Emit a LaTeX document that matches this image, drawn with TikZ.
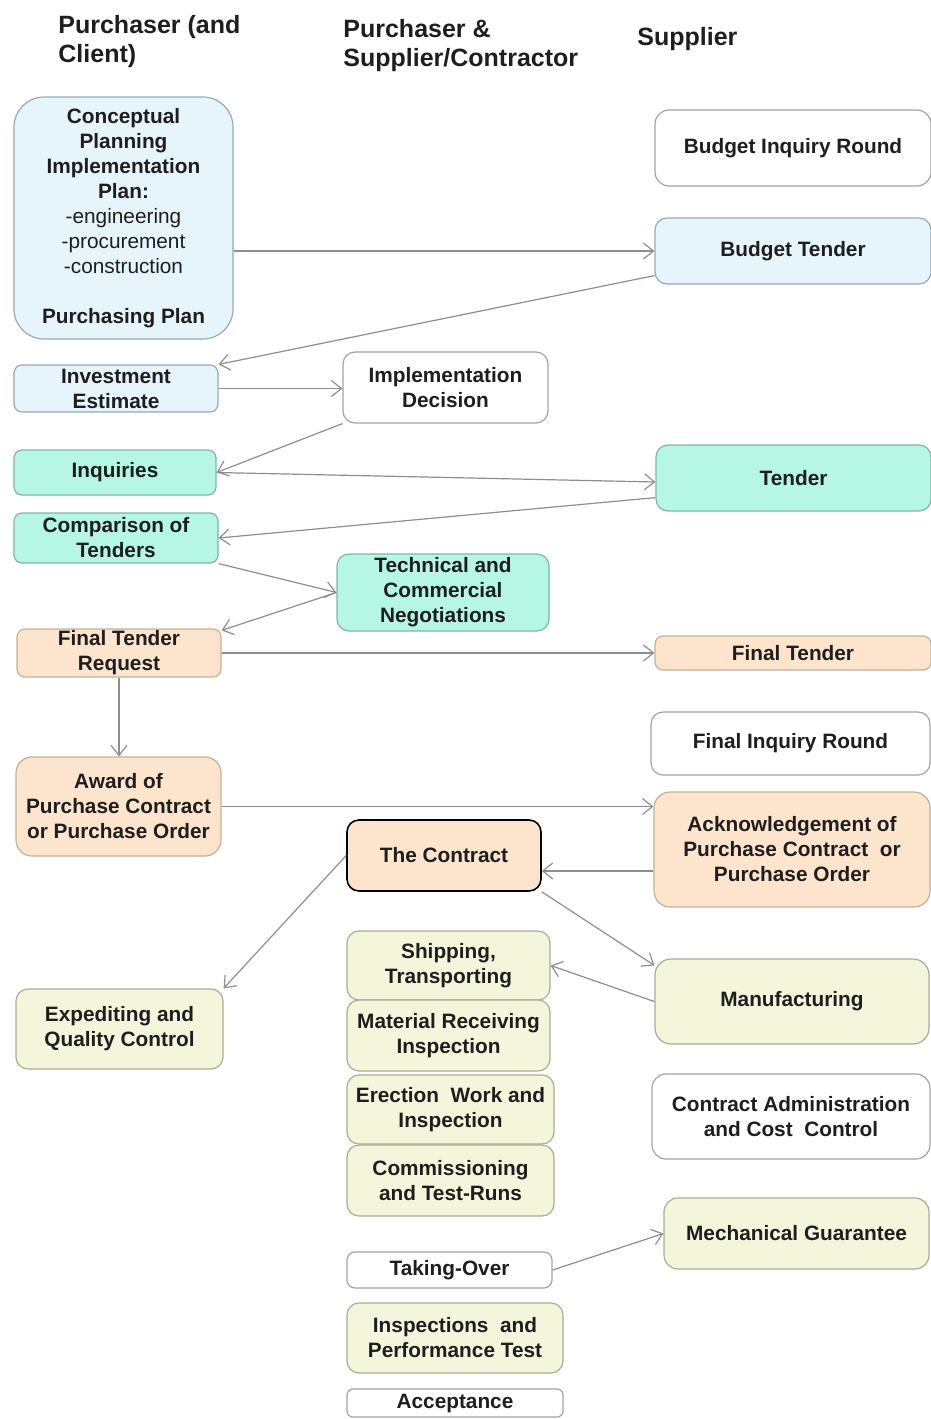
\documentclass[tikz,border=0pt]{standalone}
\usepackage{fontspec}
\setmainfont{Liberation Sans}
\usetikzlibrary{arrows.meta}
\definecolor{fblue}{HTML}{E6F4FC}
\definecolor{dblue}{HTML}{9AAAB2}
\definecolor{fteal}{HTML}{B5F6E5}
\definecolor{dteal}{HTML}{82B4A6}
\definecolor{fpeach}{HTML}{FCE4CD}
\definecolor{dpeach}{HTML}{C4B09A}
\definecolor{fgreen}{HTML}{F3F6DA}
\definecolor{dgreen}{HTML}{A9AD95}
\definecolor{dwhite}{HTML}{A3A3A3}
\definecolor{agray}{HTML}{8E8E8E}
\definecolor{txt}{HTML}{1E1E1E}
\tikzset{
  box/.style={draw=dwhite, fill=white, rounded corners=5pt, line width=0.6pt, inner sep=0pt,
    align=center, text=txt, font=\bfseries\fontsize{10.4}{12.5}\selectfont},
  bluebox/.style={box, fill=fblue, draw=dblue},
  tealbox/.style={box, fill=fteal, draw=dteal},
  peachbox/.style={box, fill=fpeach, draw=dpeach},
  greenbox/.style={box, fill=fgreen, draw=dgreen},
  whitebox/.style={box},
  head/.style={anchor=base west, inner sep=0pt, text=txt, font=\bfseries\fontsize{12.5}{14.5}\selectfont},
  arr/.style={draw=agray, line width=0.6pt, -{Straight Barb[length=5pt,width=8pt]}},
}
\newcommand\bx[7]{\node[#6, minimum width={(#4-#2)*0.5pt}, minimum height={(#5-#3)*0.5pt}] (#1) at ({(#2+#4)/2},{(#3+#5)/2}) {#7};}
\begin{document}
\begin{tikzpicture}[x=0.5pt,y=-0.5pt]
\useasboundingbox (0,0) rectangle (931,1419);
% headers
\node[head] (h1a) at (58,33) {Purchaser (and};
\node[head] (h1b) at (58,62) {Client)};
\node[head] (h2a) at (343,37) {Purchaser \&};
\node[head] (h2b) at (343,66) {Supplier/Contractor};
\node[head] (h3) at (637,45) {Supplier};
% boxes
\bx{cp}{14}{97}{233}{339}{bluebox, rounded corners=15pt}{Conceptual\\Planning\\Implementation\\Plan:\\\mdseries -engineering\\\mdseries -procurement\\\mdseries -construction\\[12.5pt]Purchasing Plan}
\bx{bir}{655}{110}{931}{186}{whitebox, rounded corners=7pt}{Budget Inquiry Round}
\bx{bt}{655}{218}{931}{284}{bluebox, rounded corners=6pt}{Budget Tender}
\bx{ie}{14}{365}{218}{412}{bluebox, rounded corners=4pt}{Investment\\Estimate}
\bx{id}{343}{352}{548}{423}{whitebox, rounded corners=6pt}{Implementation\\Decision}
\bx{inq}{14}{450}{216}{495}{tealbox, rounded corners=4pt}{Inquiries}
\bx{tnd}{656}{445}{931}{511}{tealbox, rounded corners=6pt}{Tender}
\bx{cmp}{14}{513}{218}{563}{tealbox, rounded corners=4pt}{Comparison of\\Tenders}
\bx{tcn}{337}{554}{549}{631}{tealbox, rounded corners=6pt}{Technical and\\Commercial\\Negotiations}
\bx{ftr}{17}{629}{221}{677}{peachbox, rounded corners=4pt}{Final Tender\\Request}
\bx{ft}{655}{636}{931}{670}{peachbox, rounded corners=4pt}{Final Tender}
\bx{fir}{651}{712}{930}{775}{whitebox, rounded corners=6pt}{Final Inquiry Round}
\bx{aw}{16}{757}{221}{856}{peachbox, rounded corners=8pt}{Award of\\Purchase Contract\\or Purchase Order}
\bx{ack}{654}{792}{930}{907}{peachbox, rounded corners=8pt}{Acknowledgement of\\Purchase Contract\ \ or\\Purchase Order}
\bx{tc}{347}{820}{541}{891}{peachbox, draw=black, line width=0.8pt, rounded corners=6pt}{The Contract}
\bx{sh}{347}{931}{550}{1000}{greenbox, rounded corners=6pt}{Shipping,\\Transporting}
\bx{mr}{347}{1000}{550}{1071}{greenbox, rounded corners=6pt}{Material Receiving\\Inspection}
\bx{ew}{347}{1075}{554}{1144}{greenbox, rounded corners=6pt}{Erection\ \ Work and\\Inspection}
\bx{ct}{347}{1145}{554}{1216}{greenbox, rounded corners=6pt}{Commissioning\\and Test-Runs}
\bx{ex}{16}{989}{223}{1069}{greenbox, rounded corners=6pt}{Expediting and\\Quality Control}
\bx{mf}{655}{959}{929}{1044}{greenbox, rounded corners=8pt}{Manufacturing}
\bx{ca}{652}{1074}{930}{1159}{whitebox, rounded corners=7pt}{Contract Administration\\and Cost\ \ Control}
\bx{mg}{664}{1198}{929}{1269}{greenbox, rounded corners=7pt}{Mechanical Guarantee}
\bx{to}{347}{1252}{552}{1288}{whitebox, rounded corners=4pt}{Taking-Over}
\bx{ip}{347}{1303}{563}{1373}{greenbox, rounded corners=6pt}{Inspections\ \ and\\Performance Test}
\bx{ac}{347}{1389}{563}{1417}{whitebox, rounded corners=3pt}{Acceptance}
% connectors
\draw[arr] (bt.west -| cp.east) -- (bt.west);
\draw[arr] ([yshift=4.5pt]bt.south west) -- (ie.north east);
\draw[arr] (ie.east) -- (ie.east -| id.west);
\draw[arr] (id.south west) -- (inq.east);
\draw[arr] (inq.east) -- ([yshift=-2pt]tnd.west);
\draw[arr] ([yshift=7pt]tnd.south west) -- (cmp.east);
\draw[arr] (cmp.south east) -- (tcn.west);
\draw[arr] (tcn.west) -- ([yshift=-1pt]ftr.north east);
\draw[arr] (ftr.east) -- (ftr.east -| ft.west);
\draw[arr] (ftr.south) -- (ftr.south |- aw.north);
\draw[arr] (aw.east) -- (aw.east -| ack.west);
\draw[arr] ([yshift=-10.75pt]ack.west) -- ([yshift=-10.75pt]ack.west -| tc.east);
\draw[arr] (tc.west) -- (ex.north east);
\draw[arr] (tc.south east) -- ([yshift=-3.5pt]mf.north west);
\draw[arr] (mf.west) -- (sh.east);
\draw[arr] (to.east) -- (mg.west);
\end{tikzpicture}
\end{document}
